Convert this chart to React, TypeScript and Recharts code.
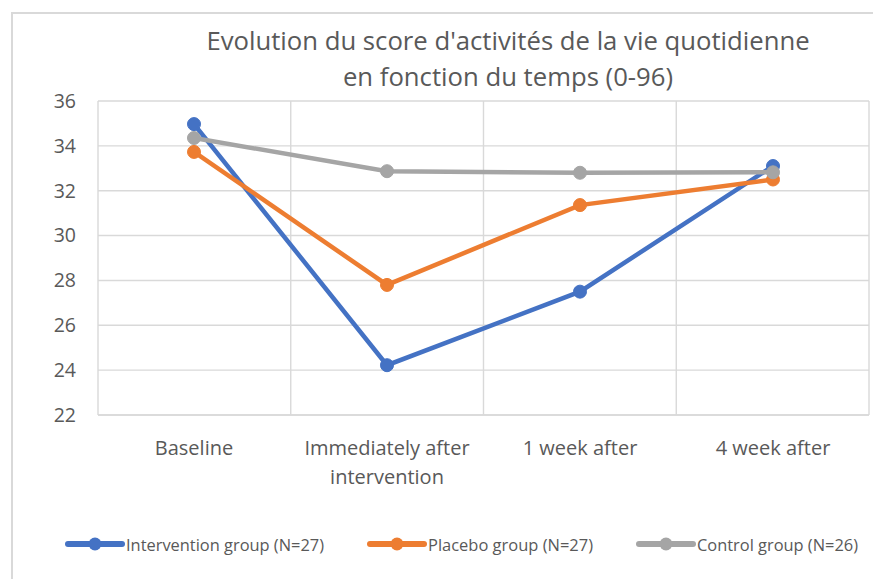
import React from 'react';
import { LineChart, Line, XAxis, YAxis, CartesianGrid, Text } from 'recharts';

const categories = ['Baseline', 'Immediately after intervention', '1 week after', '4 week after'];
const interventionValues = [34.97, 24.22, 27.5, 33.1];
const placeboValues = [33.73, 27.8, 31.36, 32.5];
const controlValues = [34.35, 32.87, 32.8, 32.82];
const yTicks = [22, 24, 26, 28, 30, 32, 34, 36];

const series = [
  { key: 'intervention', name: 'Intervention group (N=27)', color: '#4472C4', textWidth: 198 },
  { key: 'placebo', name: 'Placebo group (N=27)', color: '#ED7D31', textWidth: 165 },
  { key: 'control', name: 'Control group (N=26)', color: '#A5A5A5', textWidth: 161 },
];

const data = categories.map((c, i) => ({
  cat: c,
  intervention: interventionValues[i],
  placebo: placeboValues[i],
  control: controlValues[i],
}));

const FONT = "'Open Sans', Lato, sans-serif";
const TEXT = '#595959';
const GRID = '#d9d9d9';

const CategoryTick = (props: any) => {
  const { x, y, payload } = props;
  return (
    <Text
      x={x}
      y={y + 24}
      width={188}
      textAnchor="middle"
      verticalAnchor="start"
      lineHeight={29}
      fill={TEXT}
      fontSize={20}
      fontFamily={FONT}
    >
      {payload.value}
    </Text>
  );
};

// legend item start positions, laid out one after the other
const legendX: number[] = [];
series.reduce((x, s) => {
  legendX.push(x);
  return x + 62 + s.textWidth + 42;
}, 64);

const App = () => {
  return (
    <div style={{ position: 'absolute', left: 0, top: 0, width: 873, height: 579, overflow: 'hidden', background: '#fff' }}>
      <div style={{ position: 'absolute', left: 11, top: 12, width: 1000, height: 700, border: `2px solid ${GRID}`, boxSizing: 'border-box' }} />
      <div
        style={{
          position: 'absolute', left: 0, top: 23, width: 1016, textAlign: 'center',
          fontFamily: FONT, fontSize: 25.7, lineHeight: '36px', color: TEXT,
        }}
      >
        Evolution du score d'activités de la vie quotidienne
        <br />
        en fonction du temps (0-96)
      </div>
      <div style={{ position: 'absolute', left: 0, top: 0 }}>
        <LineChart width={873} height={579} data={data} margin={{ top: 101, right: 4, left: 0, bottom: 0 }}>
          <CartesianGrid
            stroke={GRID}
            strokeWidth={1.4}
            verticalCoordinatesGenerator={({ offset }: any) =>
              [0, 1, 2, 3, 4].map((i) => offset.left + (i * offset.width) / 4)
            }
          />
          <XAxis
            dataKey="cat"
            padding={{ left: 96, right: 96 }}
            height={164}
            axisLine={{ stroke: GRID, strokeWidth: 1.4 }}
            tickLine={false}
            tickSize={0}
            interval={0}
            tick={<CategoryTick />}
          />
          <YAxis
            width={98}
            domain={[22, 36]}
            ticks={yTicks}
            interval={0}
            axisLine={false}
            tickLine={false}
            tickSize={0}
            tickMargin={22}
            tick={{ fill: TEXT, fontSize: 19.5, fontFamily: FONT }}
          />
          {series.map((s) => (
            <Line
              key={s.key}
              dataKey={s.key}
              name={s.name}
              type="linear"
              stroke={s.color}
              strokeWidth={4.5}
              dot={{ r: 6.5, fill: s.color, stroke: s.color, strokeWidth: 1 }}
              activeDot={false}
              isAnimationActive={false}
            />
          ))}
        </LineChart>
      </div>
      <svg style={{ position: 'absolute', left: 0, top: 526 }} width={873} height={40}>
        {series.map((s, i) => (
          <g key={s.key} transform={`translate(${legendX[i]},0)`}>
            <line x1={4} y1={18} x2={58} y2={18} stroke={s.color} strokeWidth={6} strokeLinecap="round" />
            <circle cx={31} cy={18} r={6.5} fill={s.color} />
            <text
              x={62}
              y={25}
              fontSize={17}
              fontFamily={FONT}
              fill={TEXT}
              textLength={s.textWidth}
              lengthAdjust="spacingAndGlyphs"
            >
              {s.name}
            </text>
          </g>
        ))}
      </svg>
    </div>
  );
};

export default App;
